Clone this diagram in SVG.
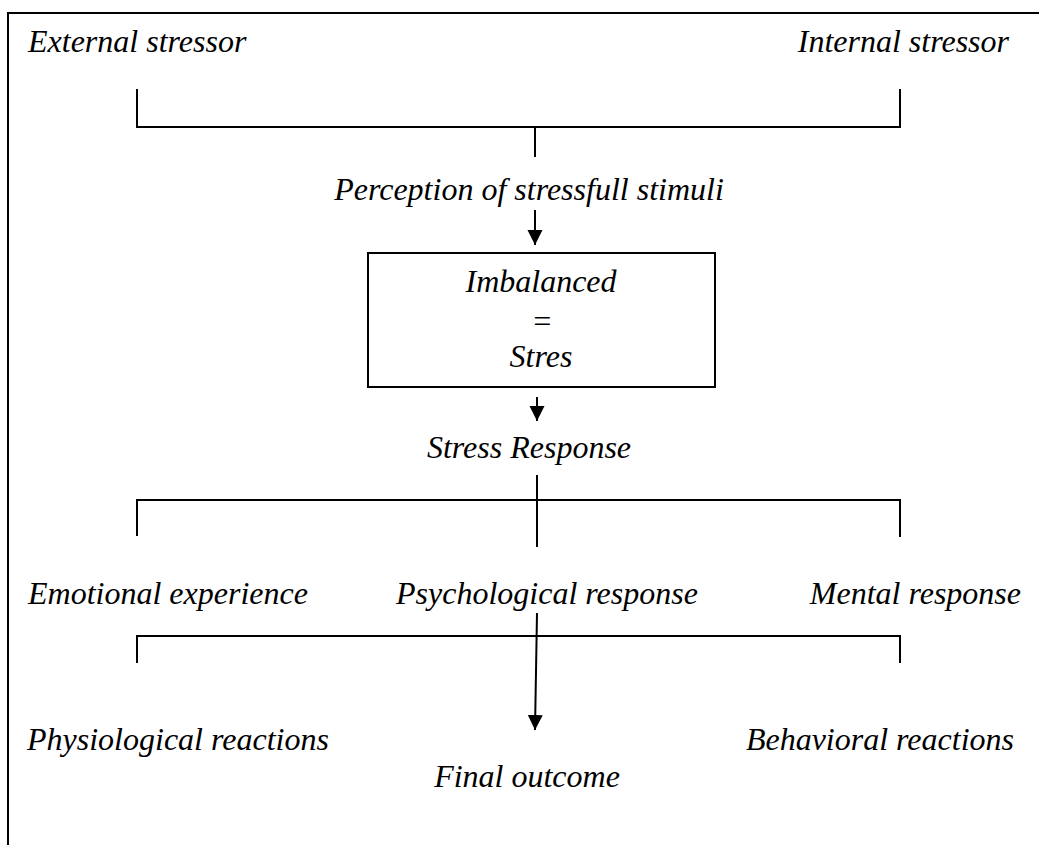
<svg xmlns="http://www.w3.org/2000/svg" width="1039" height="845" viewBox="0 0 1039 845">
<style>
text{font-family:"Liberation Serif","Times New Roman",serif;font-style:italic;font-size:32px;fill:#000}
.c{text-anchor:middle}
.ln{stroke:#000;stroke-width:2;fill:none}
</style>
<defs>
<marker id="ah" markerWidth="16" markerHeight="16" refX="15" refY="8" orient="auto" markerUnits="userSpaceOnUse">
<path d="M0,0.5 L15,8 L0,15.5 Z" fill="#000"/>
</marker>
</defs>
<rect width="1039" height="845" fill="#fff"/>
<path class="ln" d="M8,845 V13 H1039"/>
<g id="connectors">
<path class="ln" d="M137,89 V127 H900 V89 M535,127 V157"/>
<path class="ln" d="M535,210 V245" marker-end="url(#ah)"/>
<path class="ln" d="M537,397 V421" marker-end="url(#ah)"/>
<path class="ln" d="M537,475 V547 M137,536 V500 H900 V537"/>
<path class="ln" d="M137,663 V636 H900 V663"/>
<path class="ln" d="M537,613 L535,730" marker-end="url(#ah)"/>
</g>
<g id="external"><text x="28" y="52">External stressor</text></g>
<g id="internal"><text x="1009" y="52" text-anchor="end">Internal stressor</text></g>
<g id="perception"><text class="c" x="529" y="200">Perception of stressfull stimuli</text></g>
<g id="imbalanced">
<rect x="368" y="253" width="347" height="134" class="ln"/>
<text class="c" x="541" y="292">Imbalanced</text>
<text class="c" x="542" y="332">=</text>
<text class="c" x="541" y="367">Stres</text>
</g>
<g id="stress-response"><text class="c" x="529" y="458">Stress Response</text></g>
<g id="emotional"><text x="28" y="604">Emotional experience</text></g>
<g id="psychological"><text class="c" x="547" y="604">Psychological response</text></g>
<g id="mental"><text x="1021" y="604" text-anchor="end">Mental response</text></g>
<g id="physiological"><text x="27" y="750">Physiological reactions</text></g>
<g id="behavioral"><text x="1014" y="750" text-anchor="end">Behavioral reactions</text></g>
<g id="final"><text class="c" x="527" y="787">Final outcome</text></g>
</svg>
